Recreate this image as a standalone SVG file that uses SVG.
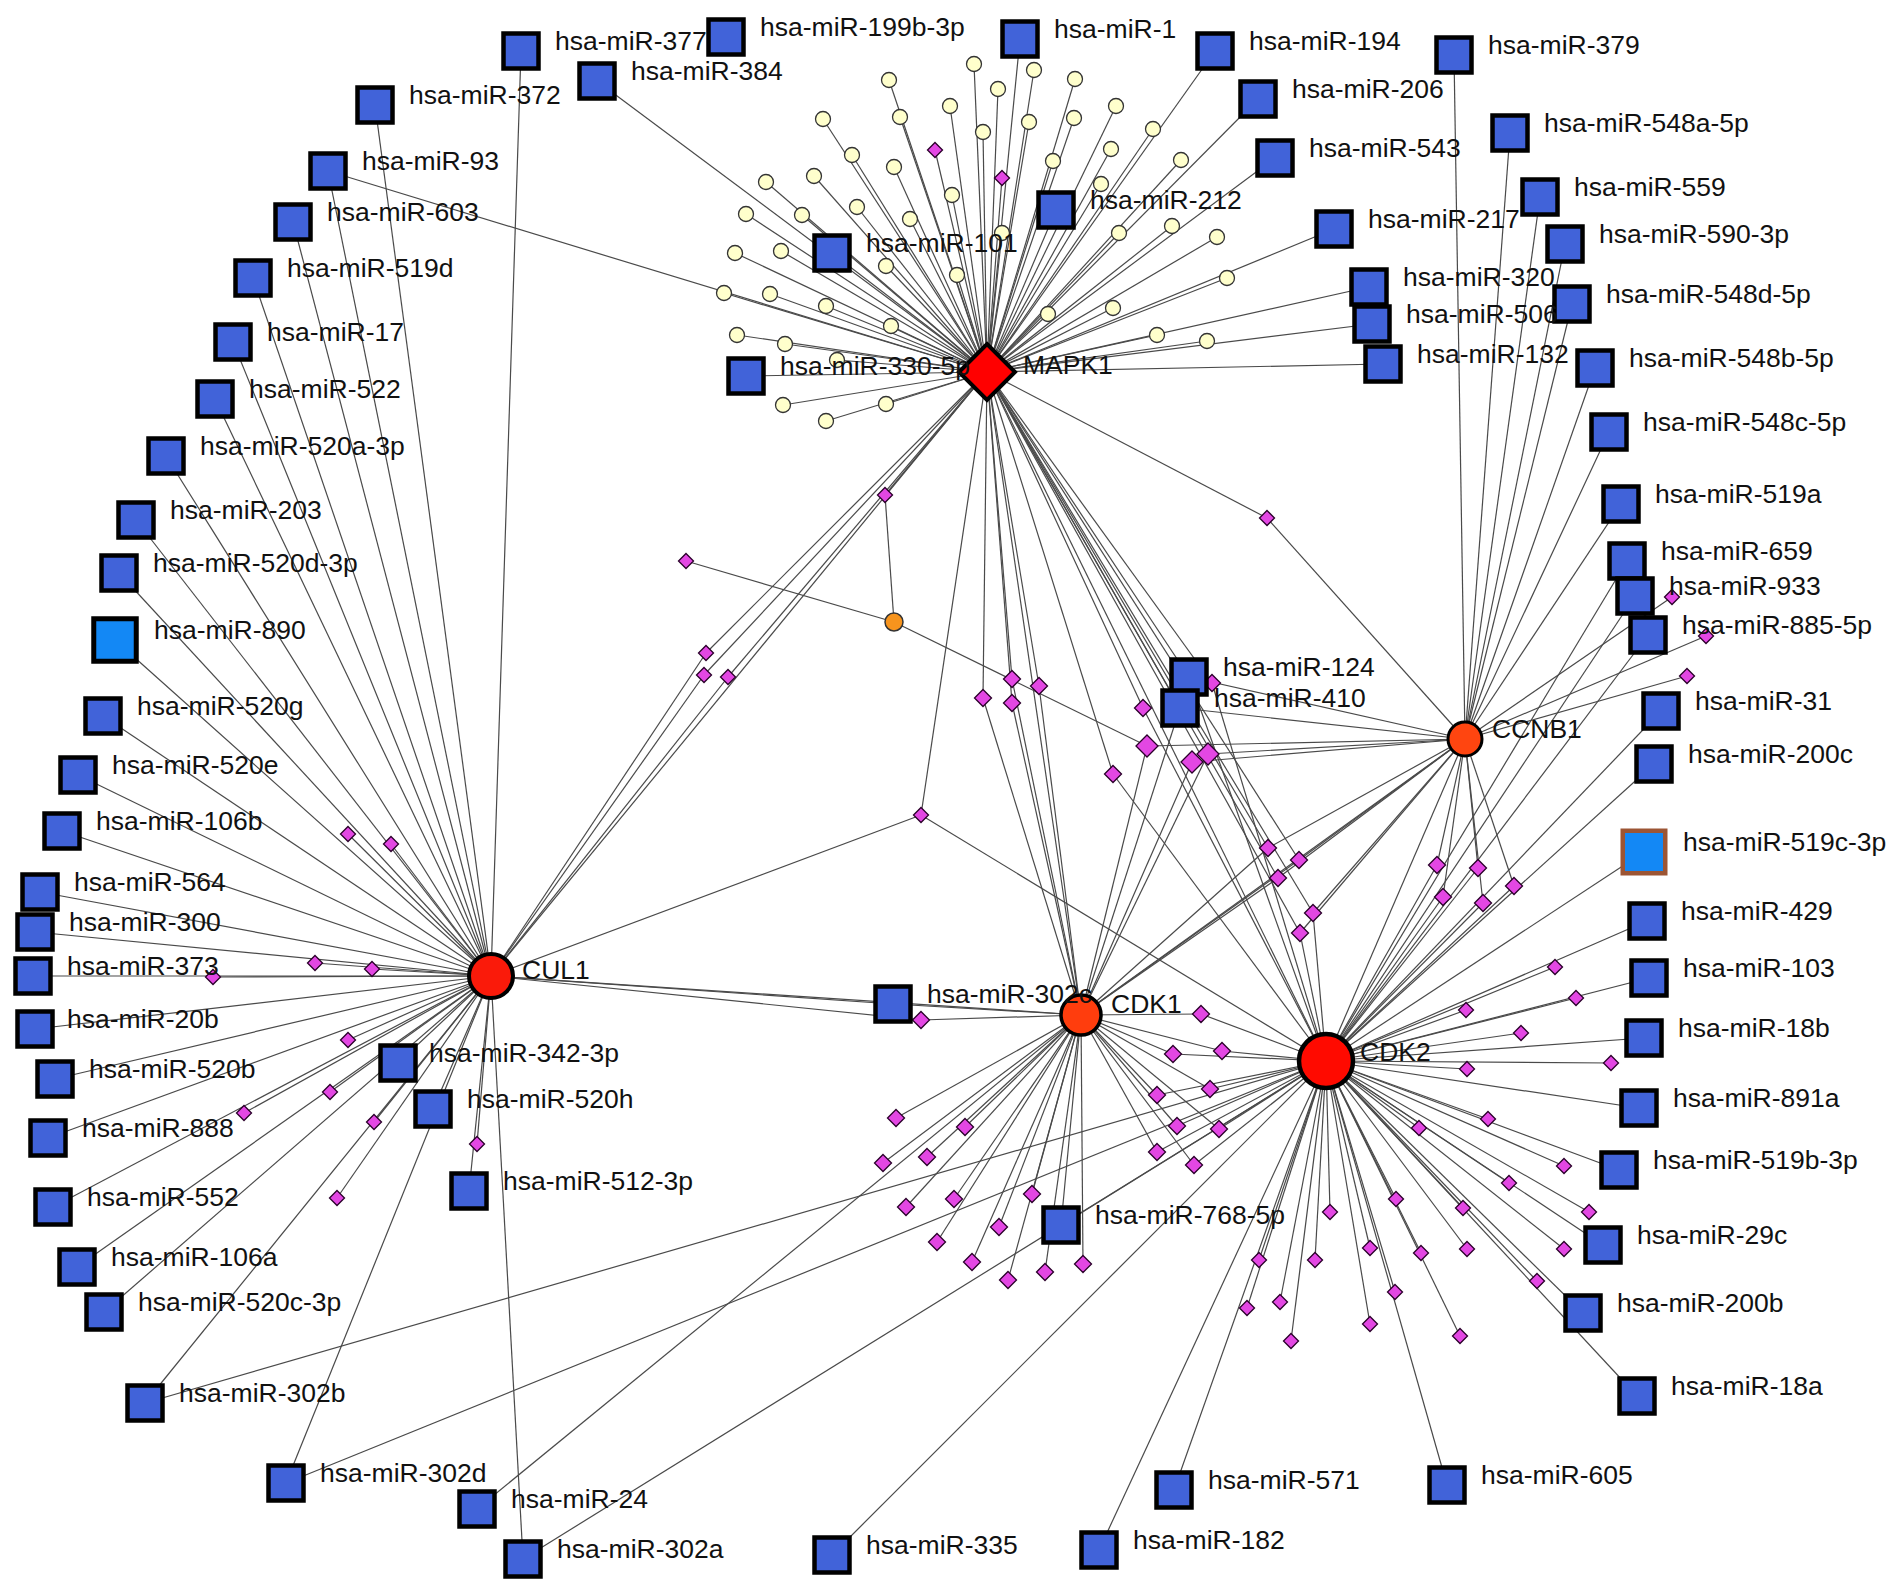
<svg xmlns="http://www.w3.org/2000/svg" xmlns:xlink="http://www.w3.org/1999/xlink" width="1890" height="1591" viewBox="0 0 1890 1591">
<style>
.e line{stroke:#4a4a4a;stroke-width:1.2}
.mir rect{fill:#4163d9;stroke:#000;stroke-width:4.5}
.lb{font-family:"Liberation Sans",Arial,sans-serif;font-size:26.5px;fill:#111}
.tf{fill:#e347e3;stroke:#2a002a;stroke-width:1.3}
.yc{fill:#ffffcc;stroke:#333;stroke-width:1.3}
</style>
<defs>
<path id="dS" d="M0,-7.5L7.5,0L0,7.5L-7.5,0Z"/>
<path id="dM" d="M0,-8.5L8.5,0L0,8.5L-8.5,0Z"/>
<path id="dL" d="M0,-11L11,0L0,11L-11,0Z"/>
</defs>
<rect width="1890" height="1591" fill="#fff"/>
<g id="connectors" class="e">
<!-- MAPK1 -->
<line x1="987" y1="372" x2="974" y2="64"/><line x1="987" y1="372" x2="1034" y2="70"/><line x1="987" y1="372" x2="889" y2="80"/><line x1="987" y1="372" x2="998" y2="89"/><line x1="987" y1="372" x2="1075" y2="79"/><line x1="987" y1="372" x2="823" y2="119"/><line x1="987" y1="372" x2="900" y2="117"/><line x1="987" y1="372" x2="950" y2="106"/><line x1="987" y1="372" x2="1029" y2="122"/><line x1="987" y1="372" x2="1074" y2="118"/><line x1="987" y1="372" x2="1116" y2="106"/><line x1="987" y1="372" x2="983" y2="132"/><line x1="987" y1="372" x2="1153" y2="129"/><line x1="987" y1="372" x2="852" y2="155"/><line x1="987" y1="372" x2="894" y2="167"/><line x1="987" y1="372" x2="1053" y2="161"/><line x1="987" y1="372" x2="1111" y2="149"/><line x1="987" y1="372" x2="1181" y2="160"/><line x1="987" y1="372" x2="766" y2="182"/><line x1="987" y1="372" x2="814" y2="176"/><line x1="987" y1="372" x2="857" y2="207"/><line x1="987" y1="372" x2="952" y2="195"/><line x1="987" y1="372" x2="1101" y2="184"/><line x1="987" y1="372" x2="746" y2="214"/><line x1="987" y1="372" x2="802" y2="215"/><line x1="987" y1="372" x2="910" y2="219"/><line x1="987" y1="372" x2="1002" y2="233"/><line x1="987" y1="372" x2="1119" y2="233"/><line x1="987" y1="372" x2="1172" y2="226"/><line x1="987" y1="372" x2="1217" y2="237"/><line x1="987" y1="372" x2="735" y2="253"/><line x1="987" y1="372" x2="781" y2="251"/><line x1="987" y1="372" x2="886" y2="266"/><line x1="987" y1="372" x2="957" y2="275"/><line x1="987" y1="372" x2="1227" y2="278"/><line x1="987" y1="372" x2="724" y2="293"/><line x1="987" y1="372" x2="770" y2="294"/><line x1="987" y1="372" x2="826" y2="306"/><line x1="987" y1="372" x2="891" y2="326"/><line x1="987" y1="372" x2="1048" y2="314"/><line x1="987" y1="372" x2="1113" y2="308"/><line x1="987" y1="372" x2="737" y2="335"/><line x1="987" y1="372" x2="785" y2="344"/><line x1="987" y1="372" x2="837" y2="360"/><line x1="987" y1="372" x2="1157" y2="335"/><line x1="987" y1="372" x2="1207" y2="341"/><line x1="987" y1="372" x2="783" y2="405"/><line x1="987" y1="372" x2="886" y2="404"/><line x1="987" y1="372" x2="826" y2="421"/>
<line x1="987" y1="372" x2="935" y2="150"/><line x1="987" y1="372" x2="1002" y2="178"/><line x1="987" y1="372" x2="597" y2="81"/><line x1="987" y1="372" x2="328" y2="171"/><line x1="987" y1="372" x2="1020" y2="39"/><line x1="987" y1="372" x2="1215" y2="51"/><line x1="987" y1="372" x2="1258" y2="99"/><line x1="987" y1="372" x2="1275" y2="158"/><line x1="987" y1="372" x2="1056" y2="210"/><line x1="987" y1="372" x2="832" y2="253"/><line x1="987" y1="372" x2="1334" y2="229"/><line x1="987" y1="372" x2="1369" y2="287"/><line x1="987" y1="372" x2="1372" y2="324"/><line x1="987" y1="372" x2="1383" y2="364"/><line x1="987" y1="372" x2="746" y2="376"/>
<line x1="987" y1="372" x2="491" y2="976"/><line x1="987" y1="372" x2="706" y2="653"/><line x1="987" y1="372" x2="704" y2="675"/><line x1="987" y1="372" x2="728" y2="677"/><line x1="987" y1="372" x2="885" y2="495"/><line x1="987" y1="372" x2="921" y2="815"/><line x1="987" y1="372" x2="1267" y2="518"/><line x1="987" y1="372" x2="983" y2="698"/><line x1="987" y1="372" x2="1012" y2="679"/><line x1="987" y1="372" x2="1012" y2="703"/><line x1="987" y1="372" x2="1039" y2="686"/><line x1="987" y1="372" x2="1143" y2="708"/><line x1="987" y1="372" x2="1113" y2="774"/><line x1="987" y1="372" x2="1212" y2="683"/><line x1="987" y1="372" x2="1081" y2="1015"/><line x1="987" y1="372" x2="1326" y2="1061"/><line x1="987" y1="372" x2="1268" y2="848"/><line x1="987" y1="372" x2="1299" y2="860"/><line x1="987" y1="372" x2="1278" y2="878"/><line x1="987" y1="372" x2="1313" y2="913"/><line x1="987" y1="372" x2="1300" y2="933"/><line x1="987" y1="372" x2="1189" y2="677"/><line x1="987" y1="372" x2="1180" y2="708"/>
<!-- CUL1 -->
<line x1="491" y1="976" x2="521" y2="51"/><line x1="491" y1="976" x2="375" y2="105"/><line x1="491" y1="976" x2="328" y2="171"/><line x1="491" y1="976" x2="293" y2="222"/><line x1="491" y1="976" x2="253" y2="278"/><line x1="491" y1="976" x2="233" y2="342"/><line x1="491" y1="976" x2="215" y2="399"/><line x1="491" y1="976" x2="166" y2="456"/><line x1="491" y1="976" x2="136" y2="520"/><line x1="491" y1="976" x2="119" y2="573"/><line x1="491" y1="976" x2="115" y2="640"/><line x1="491" y1="976" x2="103" y2="716"/><line x1="491" y1="976" x2="78" y2="775"/><line x1="491" y1="976" x2="62" y2="831"/><line x1="491" y1="976" x2="40" y2="892"/><line x1="491" y1="976" x2="35" y2="932"/><line x1="491" y1="976" x2="33" y2="976"/><line x1="491" y1="976" x2="35" y2="1029"/><line x1="491" y1="976" x2="55" y2="1079"/><line x1="491" y1="976" x2="48" y2="1138"/><line x1="491" y1="976" x2="53" y2="1207"/><line x1="491" y1="976" x2="77" y2="1267"/><line x1="491" y1="976" x2="104" y2="1312"/><line x1="491" y1="976" x2="145" y2="1403"/><line x1="491" y1="976" x2="286" y2="1483"/><line x1="491" y1="976" x2="523" y2="1559"/><line x1="491" y1="976" x2="398" y2="1063"/><line x1="491" y1="976" x2="433" y2="1109"/><line x1="491" y1="976" x2="469" y2="1191"/>
<line x1="491" y1="976" x2="348" y2="834"/><line x1="491" y1="976" x2="391" y2="844"/><line x1="491" y1="976" x2="315" y2="963"/><line x1="491" y1="976" x2="372" y2="969"/><line x1="491" y1="976" x2="213" y2="977"/><line x1="491" y1="976" x2="348" y2="1040"/><line x1="491" y1="976" x2="330" y2="1092"/><line x1="491" y1="976" x2="244" y2="1113"/><line x1="491" y1="976" x2="374" y2="1122"/><line x1="491" y1="976" x2="477" y2="1144"/><line x1="491" y1="976" x2="337" y2="1198"/>
<line x1="491" y1="976" x2="921" y2="1020"/><line x1="491" y1="976" x2="893" y2="1004"/><line x1="491" y1="976" x2="1081" y2="1015"/><line x1="491" y1="976" x2="921" y2="815"/><line x1="491" y1="976" x2="706" y2="653"/><line x1="491" y1="976" x2="704" y2="675"/><line x1="491" y1="976" x2="728" y2="677"/>
<!-- CDK1 -->
<line x1="1081" y1="1015" x2="893" y2="1004"/><line x1="1081" y1="1015" x2="477" y2="1509"/><line x1="1081" y1="1015" x2="1061" y2="1225"/><line x1="1081" y1="1015" x2="921" y2="1020"/>
<line x1="1081" y1="1015" x2="896" y2="1118"/><line x1="1081" y1="1015" x2="965" y2="1127"/><line x1="1081" y1="1015" x2="883" y2="1163"/><line x1="1081" y1="1015" x2="927" y2="1157"/><line x1="1081" y1="1015" x2="906" y2="1207"/><line x1="1081" y1="1015" x2="954" y2="1199"/><line x1="1081" y1="1015" x2="1032" y2="1194"/><line x1="1081" y1="1015" x2="999" y2="1227"/><line x1="1081" y1="1015" x2="937" y2="1242"/><line x1="1081" y1="1015" x2="972" y2="1262"/><line x1="1081" y1="1015" x2="1008" y2="1280"/><line x1="1081" y1="1015" x2="1045" y2="1272"/><line x1="1081" y1="1015" x2="1083" y2="1264"/>
<line x1="1081" y1="1015" x2="1201" y2="1014"/><line x1="1081" y1="1015" x2="1173" y2="1054"/><line x1="1081" y1="1015" x2="1222" y2="1051"/><line x1="1081" y1="1015" x2="1157" y2="1095"/><line x1="1081" y1="1015" x2="1210" y2="1089"/><line x1="1081" y1="1015" x2="1177" y2="1126"/><line x1="1081" y1="1015" x2="1219" y2="1129"/><line x1="1081" y1="1015" x2="1157" y2="1152"/><line x1="1081" y1="1015" x2="1194" y2="1165"/>
<line x1="1081" y1="1015" x2="983" y2="698"/><line x1="1081" y1="1015" x2="1012" y2="679"/><line x1="1081" y1="1015" x2="1012" y2="703"/><line x1="1081" y1="1015" x2="1039" y2="686"/><line x1="1081" y1="1015" x2="1147" y2="746"/><line x1="1081" y1="1015" x2="1192" y2="762"/><line x1="1081" y1="1015" x2="1208" y2="754"/><line x1="1081" y1="1015" x2="1268" y2="848"/><line x1="1081" y1="1015" x2="1299" y2="860"/><line x1="1081" y1="1015" x2="1278" y2="878"/><line x1="1081" y1="1015" x2="1465" y2="739"/><line x1="1081" y1="1015" x2="1180" y2="708"/>
<!-- CDK2 -->
<line x1="1326" y1="1061" x2="1654" y2="764"/><line x1="1326" y1="1061" x2="1661" y2="711"/><line x1="1326" y1="1061" x2="1648" y2="635"/><line x1="1326" y1="1061" x2="1635" y2="596"/><line x1="1326" y1="1061" x2="1627" y2="561"/><line x1="1326" y1="1061" x2="1644" y2="852"/><line x1="1326" y1="1061" x2="1647" y2="921"/><line x1="1326" y1="1061" x2="1649" y2="978"/><line x1="1326" y1="1061" x2="1644" y2="1038"/><line x1="1326" y1="1061" x2="1639" y2="1108"/><line x1="1326" y1="1061" x2="1619" y2="1170"/><line x1="1326" y1="1061" x2="1603" y2="1245"/><line x1="1326" y1="1061" x2="1583" y2="1313"/><line x1="1326" y1="1061" x2="1637" y2="1396"/><line x1="1326" y1="1061" x2="1447" y2="1485"/><line x1="1326" y1="1061" x2="1174" y2="1490"/><line x1="1326" y1="1061" x2="1099" y2="1550"/><line x1="1326" y1="1061" x2="832" y2="1555"/><line x1="1326" y1="1061" x2="523" y2="1559"/><line x1="1326" y1="1061" x2="286" y2="1483"/><line x1="1326" y1="1061" x2="145" y2="1403"/><line x1="1326" y1="1061" x2="1061" y2="1225"/><line x1="1326" y1="1061" x2="1189" y2="677"/>
<line x1="1326" y1="1061" x2="1555" y2="967"/><line x1="1326" y1="1061" x2="1576" y2="998"/><line x1="1326" y1="1061" x2="1466" y2="1010"/><line x1="1326" y1="1061" x2="1521" y2="1033"/><line x1="1326" y1="1061" x2="1611" y2="1063"/><line x1="1326" y1="1061" x2="1467" y2="1069"/><line x1="1326" y1="1061" x2="1488" y2="1119"/><line x1="1326" y1="1061" x2="1419" y2="1128"/><line x1="1326" y1="1061" x2="1564" y2="1166"/><line x1="1326" y1="1061" x2="1509" y2="1183"/><line x1="1326" y1="1061" x2="1589" y2="1212"/><line x1="1326" y1="1061" x2="1463" y2="1208"/><line x1="1326" y1="1061" x2="1396" y2="1199"/><line x1="1326" y1="1061" x2="1330" y2="1212"/><line x1="1326" y1="1061" x2="1370" y2="1248"/><line x1="1326" y1="1061" x2="1421" y2="1253"/><line x1="1326" y1="1061" x2="1467" y2="1249"/><line x1="1326" y1="1061" x2="1564" y2="1249"/><line x1="1326" y1="1061" x2="1315" y2="1260"/><line x1="1326" y1="1061" x2="1259" y2="1260"/><line x1="1326" y1="1061" x2="1537" y2="1281"/><line x1="1326" y1="1061" x2="1280" y2="1302"/><line x1="1326" y1="1061" x2="1395" y2="1292"/><line x1="1326" y1="1061" x2="1370" y2="1324"/><line x1="1326" y1="1061" x2="1460" y2="1336"/><line x1="1326" y1="1061" x2="1291" y2="1341"/><line x1="1326" y1="1061" x2="1247" y2="1308"/>
<line x1="1326" y1="1061" x2="1201" y2="1014"/><line x1="1326" y1="1061" x2="1173" y2="1054"/><line x1="1326" y1="1061" x2="1222" y2="1051"/><line x1="1326" y1="1061" x2="1157" y2="1095"/><line x1="1326" y1="1061" x2="1210" y2="1089"/><line x1="1326" y1="1061" x2="1177" y2="1126"/><line x1="1326" y1="1061" x2="1219" y2="1129"/><line x1="1326" y1="1061" x2="1157" y2="1152"/><line x1="1326" y1="1061" x2="1194" y2="1165"/>
<line x1="1326" y1="1061" x2="1437" y2="865"/><line x1="1326" y1="1061" x2="1478" y2="868"/><line x1="1326" y1="1061" x2="1514" y2="886"/><line x1="1326" y1="1061" x2="1443" y2="897"/><line x1="1326" y1="1061" x2="1483" y2="903"/><line x1="1326" y1="1061" x2="1313" y2="913"/><line x1="1326" y1="1061" x2="1300" y2="933"/><line x1="1326" y1="1061" x2="921" y2="815"/><line x1="1326" y1="1061" x2="1143" y2="708"/><line x1="1326" y1="1061" x2="1113" y2="774"/><line x1="1326" y1="1061" x2="1212" y2="683"/><line x1="1326" y1="1061" x2="1465" y2="739"/>
<!-- CCNB1 -->
<line x1="1465" y1="739" x2="1454" y2="55"/><line x1="1465" y1="739" x2="1510" y2="133"/><line x1="1465" y1="739" x2="1540" y2="197"/><line x1="1465" y1="739" x2="1565" y2="244"/><line x1="1465" y1="739" x2="1572" y2="304"/><line x1="1465" y1="739" x2="1595" y2="368"/><line x1="1465" y1="739" x2="1609" y2="432"/><line x1="1465" y1="739" x2="1621" y2="504"/>
<line x1="1465" y1="739" x2="1267" y2="518"/><line x1="1465" y1="739" x2="1147" y2="746"/><line x1="1465" y1="739" x2="1192" y2="762"/><line x1="1465" y1="739" x2="1208" y2="754"/><line x1="1465" y1="739" x2="1672" y2="597"/><line x1="1465" y1="739" x2="1706" y2="636"/><line x1="1465" y1="739" x2="1687" y2="676"/>
<line x1="1465" y1="739" x2="1268" y2="848"/><line x1="1465" y1="739" x2="1299" y2="860"/><line x1="1465" y1="739" x2="1278" y2="878"/><line x1="1465" y1="739" x2="1313" y2="913"/><line x1="1465" y1="739" x2="1300" y2="933"/><line x1="1465" y1="739" x2="1437" y2="865"/><line x1="1465" y1="739" x2="1478" y2="868"/><line x1="1465" y1="739" x2="1514" y2="886"/><line x1="1465" y1="739" x2="1443" y2="897"/><line x1="1465" y1="739" x2="1483" y2="903"/><line x1="1465" y1="739" x2="1189" y2="677"/><line x1="1465" y1="739" x2="1180" y2="708"/>
<!-- orange node -->
<line x1="894" y1="622" x2="885" y2="495"/><line x1="894" y1="622" x2="686" y2="561"/><line x1="894" y1="622" x2="1147" y2="746"/>
</g>
<g id="yellow-nodes" class="yc">
<g id="y1"><circle cx="974" cy="64" r="7.5"/></g><g id="y2"><circle cx="1034" cy="70" r="7.5"/></g><g id="y3"><circle cx="889" cy="80" r="7.5"/></g><g id="y4"><circle cx="998" cy="89" r="7.5"/></g><g id="y5"><circle cx="1075" cy="79" r="7.5"/></g><g id="y6"><circle cx="823" cy="119" r="7.5"/></g><g id="y7"><circle cx="900" cy="117" r="7.5"/></g><g id="y8"><circle cx="950" cy="106" r="7.5"/></g><g id="y9"><circle cx="1029" cy="122" r="7.5"/></g><g id="y10"><circle cx="1074" cy="118" r="7.5"/></g><g id="y11"><circle cx="1116" cy="106" r="7.5"/></g><g id="y12"><circle cx="983" cy="132" r="7.5"/></g><g id="y13"><circle cx="1153" cy="129" r="7.5"/></g><g id="y14"><circle cx="852" cy="155" r="7.5"/></g><g id="y15"><circle cx="894" cy="167" r="7.5"/></g><g id="y16"><circle cx="1053" cy="161" r="7.5"/></g><g id="y17"><circle cx="1111" cy="149" r="7.5"/></g><g id="y18"><circle cx="1181" cy="160" r="7.5"/></g><g id="y19"><circle cx="766" cy="182" r="7.5"/></g><g id="y20"><circle cx="814" cy="176" r="7.5"/></g><g id="y21"><circle cx="857" cy="207" r="7.5"/></g><g id="y22"><circle cx="952" cy="195" r="7.5"/></g><g id="y23"><circle cx="1101" cy="184" r="7.5"/></g><g id="y24"><circle cx="746" cy="214" r="7.5"/></g><g id="y25"><circle cx="802" cy="215" r="7.5"/></g><g id="y26"><circle cx="910" cy="219" r="7.5"/></g><g id="y27"><circle cx="1002" cy="233" r="7.5"/></g><g id="y28"><circle cx="1119" cy="233" r="7.5"/></g><g id="y29"><circle cx="1172" cy="226" r="7.5"/></g><g id="y30"><circle cx="1217" cy="237" r="7.5"/></g><g id="y31"><circle cx="735" cy="253" r="7.5"/></g><g id="y32"><circle cx="781" cy="251" r="7.5"/></g><g id="y33"><circle cx="886" cy="266" r="7.5"/></g><g id="y34"><circle cx="957" cy="275" r="7.5"/></g><g id="y35"><circle cx="1227" cy="278" r="7.5"/></g><g id="y36"><circle cx="724" cy="293" r="7.5"/></g><g id="y37"><circle cx="770" cy="294" r="7.5"/></g><g id="y38"><circle cx="826" cy="306" r="7.5"/></g><g id="y39"><circle cx="891" cy="326" r="7.5"/></g><g id="y40"><circle cx="1048" cy="314" r="7.5"/></g><g id="y41"><circle cx="1113" cy="308" r="7.5"/></g><g id="y42"><circle cx="737" cy="335" r="7.5"/></g><g id="y43"><circle cx="785" cy="344" r="7.5"/></g><g id="y44"><circle cx="837" cy="360" r="7.5"/></g><g id="y45"><circle cx="1157" cy="335" r="7.5"/></g><g id="y46"><circle cx="1207" cy="341" r="7.5"/></g><g id="y47"><circle cx="783" cy="405" r="7.5"/></g><g id="y48"><circle cx="886" cy="404" r="7.5"/></g><g id="y49"><circle cx="826" cy="421" r="7.5"/></g>
</g>
<g id="tf-nodes" class="tf">
<g id="t1"><use href="#dS" x="935" y="150"/></g><g id="t2"><use href="#dS" x="1002" y="178"/></g>
<g id="t3"><use href="#dS" x="706" y="653"/></g><g id="t4"><use href="#dS" x="704" y="675"/></g><g id="t5"><use href="#dS" x="728" y="677"/></g>
<g id="t6"><use href="#dS" x="885" y="495"/></g><g id="t7"><use href="#dS" x="686" y="561"/></g><g id="t8"><use href="#dS" x="921" y="815"/></g><g id="t9"><use href="#dS" x="1267" y="518"/></g>
<g id="t10"><use href="#dM" x="983" y="698"/></g><g id="t11"><use href="#dM" x="1012" y="679"/></g><g id="t12"><use href="#dM" x="1012" y="703"/></g><g id="t13"><use href="#dM" x="1039" y="686"/></g>
<g id="t14"><use href="#dM" x="1143" y="708"/></g><g id="t15"><use href="#dM" x="1113" y="774"/></g><g id="t16"><use href="#dM" x="1212" y="683"/></g>
<g id="t17"><use href="#dL" x="1147" y="746"/></g><g id="t18"><use href="#dL" x="1192" y="762"/></g><g id="t19"><use href="#dL" x="1208" y="754"/></g>
<g id="t20"><use href="#dM" x="921" y="1020"/></g>
<g id="t21"><use href="#dM" x="1201" y="1014"/></g><g id="t22"><use href="#dM" x="1173" y="1054"/></g><g id="t23"><use href="#dM" x="1222" y="1051"/></g><g id="t24"><use href="#dM" x="1157" y="1095"/></g><g id="t25"><use href="#dM" x="1210" y="1089"/></g><g id="t26"><use href="#dM" x="1177" y="1126"/></g><g id="t27"><use href="#dM" x="1219" y="1129"/></g><g id="t28"><use href="#dM" x="1157" y="1152"/></g><g id="t29"><use href="#dM" x="1194" y="1165"/></g>
<g id="t30"><use href="#dM" x="896" y="1118"/></g><g id="t31"><use href="#dM" x="965" y="1127"/></g><g id="t32"><use href="#dM" x="883" y="1163"/></g><g id="t33"><use href="#dM" x="927" y="1157"/></g><g id="t34"><use href="#dM" x="906" y="1207"/></g><g id="t35"><use href="#dM" x="954" y="1199"/></g><g id="t36"><use href="#dM" x="1032" y="1194"/></g><g id="t37"><use href="#dM" x="999" y="1227"/></g><g id="t38"><use href="#dM" x="937" y="1242"/></g><g id="t39"><use href="#dM" x="972" y="1262"/></g><g id="t40"><use href="#dM" x="1008" y="1280"/></g><g id="t41"><use href="#dM" x="1045" y="1272"/></g><g id="t42"><use href="#dM" x="1083" y="1264"/></g>
<g id="t43"><use href="#dS" x="1672" y="597"/></g><g id="t44"><use href="#dS" x="1706" y="636"/></g><g id="t45"><use href="#dS" x="1687" y="676"/></g>
<g id="t46"><use href="#dM" x="1268" y="848"/></g><g id="t47"><use href="#dM" x="1299" y="860"/></g><g id="t48"><use href="#dM" x="1278" y="878"/></g><g id="t49"><use href="#dM" x="1313" y="913"/></g><g id="t50"><use href="#dM" x="1300" y="933"/></g>
<g id="t51"><use href="#dM" x="1437" y="865"/></g><g id="t52"><use href="#dM" x="1478" y="868"/></g><g id="t53"><use href="#dM" x="1514" y="886"/></g><g id="t54"><use href="#dM" x="1443" y="897"/></g><g id="t55"><use href="#dM" x="1483" y="903"/></g>
<g id="t56"><use href="#dS" x="1555" y="967"/></g><g id="t57"><use href="#dS" x="1576" y="998"/></g><g id="t58"><use href="#dS" x="1466" y="1010"/></g><g id="t59"><use href="#dS" x="1521" y="1033"/></g><g id="t60"><use href="#dS" x="1611" y="1063"/></g><g id="t61"><use href="#dS" x="1467" y="1069"/></g>
<g id="t62"><use href="#dS" x="1488" y="1119"/></g><g id="t63"><use href="#dS" x="1419" y="1128"/></g><g id="t64"><use href="#dS" x="1564" y="1166"/></g><g id="t65"><use href="#dS" x="1509" y="1183"/></g><g id="t66"><use href="#dS" x="1589" y="1212"/></g><g id="t67"><use href="#dS" x="1463" y="1208"/></g><g id="t68"><use href="#dS" x="1396" y="1199"/></g><g id="t69"><use href="#dS" x="1330" y="1212"/></g><g id="t70"><use href="#dS" x="1370" y="1248"/></g><g id="t71"><use href="#dS" x="1421" y="1253"/></g><g id="t72"><use href="#dS" x="1467" y="1249"/></g><g id="t73"><use href="#dS" x="1564" y="1249"/></g><g id="t74"><use href="#dS" x="1315" y="1260"/></g><g id="t75"><use href="#dS" x="1259" y="1260"/></g><g id="t76"><use href="#dS" x="1537" y="1281"/></g><g id="t77"><use href="#dS" x="1280" y="1302"/></g><g id="t78"><use href="#dS" x="1395" y="1292"/></g><g id="t79"><use href="#dS" x="1370" y="1324"/></g><g id="t80"><use href="#dS" x="1460" y="1336"/></g><g id="t81"><use href="#dS" x="1291" y="1341"/></g><g id="t82"><use href="#dS" x="1247" y="1308"/></g>
<g id="t83"><use href="#dS" x="348" y="834"/></g><g id="t84"><use href="#dS" x="391" y="844"/></g><g id="t85"><use href="#dS" x="315" y="963"/></g><g id="t86"><use href="#dS" x="372" y="969"/></g><g id="t87"><use href="#dS" x="213" y="977"/></g><g id="t88"><use href="#dS" x="348" y="1040"/></g><g id="t89"><use href="#dS" x="330" y="1092"/></g><g id="t90"><use href="#dS" x="244" y="1113"/></g><g id="t91"><use href="#dS" x="374" y="1122"/></g><g id="t92"><use href="#dS" x="477" y="1144"/></g><g id="t93"><use href="#dS" x="337" y="1198"/></g>
</g>
<g id="orange-node"><circle cx="894" cy="622" r="9" fill="#f7941d" stroke="#333" stroke-width="1.5"/></g>
<g id="MAPK1"><path d="M987,344L1015,372L987,400L959,372Z" fill="#ff0000" stroke="#000" stroke-width="4"/><text class="lb" x="1023" y="374">MAPK1</text></g>
<g id="CUL1"><circle cx="491" cy="976" r="22" fill="#fa1a0a" stroke="#000" stroke-width="4"/><text class="lb" x="522" y="979">CUL1</text></g>
<g id="CDK2"><circle cx="1326" cy="1061" r="27" fill="#ff0a00" stroke="#000" stroke-width="4.5"/><text class="lb" x="1360" y="1061">CDK2</text></g>
<g id="CCNB1"><circle cx="1465" cy="739" r="17" fill="#ff4510" stroke="#000" stroke-width="3"/><text class="lb" x="1492" y="738">CCNB1</text></g>
<g id="mirnas">
<g id="hsa-miR-377" class="mir"><rect x="503.5" y="33.5" width="35" height="35"/><text class="lb" x="555" y="50">hsa-miR-377</text></g>
<g id="hsa-miR-199b-3p" class="mir"><rect x="708.5" y="19.5" width="35" height="35"/><text class="lb" x="760" y="36">hsa-miR-199b-3p</text></g>
<g id="hsa-miR-1" class="mir"><rect x="1002.5" y="21.5" width="35" height="35"/><text class="lb" x="1054" y="38">hsa-miR-1</text></g>
<g id="hsa-miR-194" class="mir"><rect x="1197.5" y="33.5" width="35" height="35"/><text class="lb" x="1249" y="50">hsa-miR-194</text></g>
<g id="hsa-miR-379" class="mir"><rect x="1436.5" y="37.5" width="35" height="35"/><text class="lb" x="1488" y="54">hsa-miR-379</text></g>
<g id="hsa-miR-384" class="mir"><rect x="579.5" y="63.5" width="35" height="35"/><text class="lb" x="631" y="80">hsa-miR-384</text></g>
<g id="hsa-miR-372" class="mir"><rect x="357.5" y="87.5" width="35" height="35"/><text class="lb" x="409" y="104">hsa-miR-372</text></g>
<g id="hsa-miR-206" class="mir"><rect x="1240.5" y="81.5" width="35" height="35"/><text class="lb" x="1292" y="98">hsa-miR-206</text></g>
<g id="hsa-miR-548a-5p" class="mir"><rect x="1492.5" y="115.5" width="35" height="35"/><text class="lb" x="1544" y="132">hsa-miR-548a-5p</text></g>
<g id="hsa-miR-93" class="mir"><rect x="310.5" y="153.5" width="35" height="35"/><text class="lb" x="362" y="170">hsa-miR-93</text></g>
<g id="hsa-miR-543" class="mir"><rect x="1257.5" y="140.5" width="35" height="35"/><text class="lb" x="1309" y="157">hsa-miR-543</text></g>
<g id="hsa-miR-559" class="mir"><rect x="1522.5" y="179.5" width="35" height="35"/><text class="lb" x="1574" y="196">hsa-miR-559</text></g>
<g id="hsa-miR-212" class="mir"><rect x="1038.5" y="192.5" width="35" height="35"/><text class="lb" x="1090" y="209">hsa-miR-212</text></g>
<g id="hsa-miR-603" class="mir"><rect x="275.5" y="204.5" width="35" height="35"/><text class="lb" x="327" y="221">hsa-miR-603</text></g>
<g id="hsa-miR-217" class="mir"><rect x="1316.5" y="211.5" width="35" height="35"/><text class="lb" x="1368" y="228">hsa-miR-217</text></g>
<g id="hsa-miR-590-3p" class="mir"><rect x="1547.5" y="226.5" width="35" height="35"/><text class="lb" x="1599" y="243">hsa-miR-590-3p</text></g>
<g id="hsa-miR-101" class="mir"><rect x="814.5" y="235.5" width="35" height="35"/><text class="lb" x="866" y="252">hsa-miR-101</text></g>
<g id="hsa-miR-519d" class="mir"><rect x="235.5" y="260.5" width="35" height="35"/><text class="lb" x="287" y="277">hsa-miR-519d</text></g>
<g id="hsa-miR-320" class="mir"><rect x="1351.5" y="269.5" width="35" height="35"/><text class="lb" x="1403" y="286">hsa-miR-320</text></g>
<g id="hsa-miR-548d-5p" class="mir"><rect x="1554.5" y="286.5" width="35" height="35"/><text class="lb" x="1606" y="303">hsa-miR-548d-5p</text></g>
<g id="hsa-miR-506" class="mir"><rect x="1354.5" y="306.5" width="35" height="35"/><text class="lb" x="1406" y="323">hsa-miR-506</text></g>
<g id="hsa-miR-17" class="mir"><rect x="215.5" y="324.5" width="35" height="35"/><text class="lb" x="267" y="341">hsa-miR-17</text></g>
<g id="hsa-miR-132" class="mir"><rect x="1365.5" y="346.5" width="35" height="35"/><text class="lb" x="1417" y="363">hsa-miR-132</text></g>
<g id="hsa-miR-548b-5p" class="mir"><rect x="1577.5" y="350.5" width="35" height="35"/><text class="lb" x="1629" y="367">hsa-miR-548b-5p</text></g>
<g id="hsa-miR-330-5p" class="mir"><rect x="728.5" y="358.5" width="35" height="35"/><text class="lb" x="780" y="375">hsa-miR-330-5p</text></g>
<g id="hsa-miR-522" class="mir"><rect x="197.5" y="381.5" width="35" height="35"/><text class="lb" x="249" y="398">hsa-miR-522</text></g>
<g id="hsa-miR-548c-5p" class="mir"><rect x="1591.5" y="414.5" width="35" height="35"/><text class="lb" x="1643" y="431">hsa-miR-548c-5p</text></g>
<g id="hsa-miR-520a-3p" class="mir"><rect x="148.5" y="438.5" width="35" height="35"/><text class="lb" x="200" y="455">hsa-miR-520a-3p</text></g>
<g id="hsa-miR-519a" class="mir"><rect x="1603.5" y="486.5" width="35" height="35"/><text class="lb" x="1655" y="503">hsa-miR-519a</text></g>
<g id="hsa-miR-203" class="mir"><rect x="118.5" y="502.5" width="35" height="35"/><text class="lb" x="170" y="519">hsa-miR-203</text></g>
<g id="hsa-miR-659" class="mir"><rect x="1609.5" y="543.5" width="35" height="35"/><text class="lb" x="1661" y="560">hsa-miR-659</text></g>
<g id="hsa-miR-520d-3p" class="mir"><rect x="101.5" y="555.5" width="35" height="35"/><text class="lb" x="153" y="572">hsa-miR-520d-3p</text></g>
<g id="hsa-miR-933" class="mir"><rect x="1617.5" y="578.5" width="35" height="35"/><text class="lb" x="1669" y="595">hsa-miR-933</text></g>
<g id="hsa-miR-885-5p" class="mir"><rect x="1630.5" y="617.5" width="35" height="35"/><text class="lb" x="1682" y="634">hsa-miR-885-5p</text></g>
<g id="hsa-miR-890" class="mir"><rect x="93.75" y="618.75" width="42.5" height="42.5" style="fill:#1388f5;stroke-width:5"/><text class="lb" x="154" y="639">hsa-miR-890</text></g>
<g id="hsa-miR-124" class="mir"><rect x="1171.5" y="659.5" width="35" height="35"/><text class="lb" x="1223" y="676">hsa-miR-124</text></g>
<g id="hsa-miR-410" class="mir"><rect x="1162.5" y="690.5" width="35" height="35"/><text class="lb" x="1214" y="707">hsa-miR-410</text></g>
<g id="hsa-miR-31" class="mir"><rect x="1643.5" y="693.5" width="35" height="35"/><text class="lb" x="1695" y="710">hsa-miR-31</text></g>
<g id="hsa-miR-520g" class="mir"><rect x="85.5" y="698.5" width="35" height="35"/><text class="lb" x="137" y="715">hsa-miR-520g</text></g>
<g id="hsa-miR-200c" class="mir"><rect x="1636.5" y="746.5" width="35" height="35"/><text class="lb" x="1688" y="763">hsa-miR-200c</text></g>
<g id="hsa-miR-520e" class="mir"><rect x="60.5" y="757.5" width="35" height="35"/><text class="lb" x="112" y="774">hsa-miR-520e</text></g>
<g id="hsa-miR-106b" class="mir"><rect x="44.5" y="813.5" width="35" height="35"/><text class="lb" x="96" y="830">hsa-miR-106b</text></g>
<g id="hsa-miR-519c-3p" class="mir"><rect x="1622.75" y="830.75" width="42.5" height="42.5" style="fill:#1388f5;stroke:#9c5534;stroke-width:4.5"/><text class="lb" x="1683" y="851">hsa-miR-519c-3p</text></g>
<g id="hsa-miR-564" class="mir"><rect x="22.5" y="874.5" width="35" height="35"/><text class="lb" x="74" y="891">hsa-miR-564</text></g>
<g id="hsa-miR-429" class="mir"><rect x="1629.5" y="903.5" width="35" height="35"/><text class="lb" x="1681" y="920">hsa-miR-429</text></g>
<g id="hsa-miR-300" class="mir"><rect x="17.5" y="914.5" width="35" height="35"/><text class="lb" x="69" y="931">hsa-miR-300</text></g>
<g id="hsa-miR-373" class="mir"><rect x="15.5" y="958.5" width="35" height="35"/><text class="lb" x="67" y="975">hsa-miR-373</text></g>
<g id="hsa-miR-103" class="mir"><rect x="1631.5" y="960.5" width="35" height="35"/><text class="lb" x="1683" y="977">hsa-miR-103</text></g>
<g id="CDK1"><circle cx="1081" cy="1015" r="20" fill="#ff3d0d" stroke="#000" stroke-width="3.5"/><text class="lb" x="1111" y="1013">CDK1</text></g>
<g id="hsa-miR-302c" class="mir"><rect x="875.5" y="986.5" width="35" height="35"/><text class="lb" x="927" y="1003">hsa-miR-302c</text></g>
<g id="hsa-miR-20b" class="mir"><rect x="17.5" y="1011.5" width="35" height="35"/><text class="lb" x="67" y="1028">hsa-miR-20b</text></g>
<g id="hsa-miR-18b" class="mir"><rect x="1626.5" y="1020.5" width="35" height="35"/><text class="lb" x="1678" y="1037">hsa-miR-18b</text></g>
<g id="hsa-miR-342-3p" class="mir"><rect x="380.5" y="1045.5" width="35" height="35"/><text class="lb" x="429" y="1062">hsa-miR-342-3p</text></g>
<g id="hsa-miR-520b" class="mir"><rect x="37.5" y="1061.5" width="35" height="35"/><text class="lb" x="89" y="1078">hsa-miR-520b</text></g>
<g id="hsa-miR-891a" class="mir"><rect x="1621.5" y="1090.5" width="35" height="35"/><text class="lb" x="1673" y="1107">hsa-miR-891a</text></g>
<g id="hsa-miR-520h" class="mir"><rect x="415.5" y="1091.5" width="35" height="35"/><text class="lb" x="467" y="1108">hsa-miR-520h</text></g>
<g id="hsa-miR-888" class="mir"><rect x="30.5" y="1120.5" width="35" height="35"/><text class="lb" x="82" y="1137">hsa-miR-888</text></g>
<g id="hsa-miR-519b-3p" class="mir"><rect x="1601.5" y="1152.5" width="35" height="35"/><text class="lb" x="1653" y="1169">hsa-miR-519b-3p</text></g>
<g id="hsa-miR-512-3p" class="mir"><rect x="451.5" y="1173.5" width="35" height="35"/><text class="lb" x="503" y="1190">hsa-miR-512-3p</text></g>
<g id="hsa-miR-552" class="mir"><rect x="35.5" y="1189.5" width="35" height="35"/><text class="lb" x="87" y="1206">hsa-miR-552</text></g>
<g id="hsa-miR-768-5p" class="mir"><rect x="1043.5" y="1207.5" width="35" height="35"/><text class="lb" x="1095" y="1224">hsa-miR-768-5p</text></g>
<g id="hsa-miR-29c" class="mir"><rect x="1585.5" y="1227.5" width="35" height="35"/><text class="lb" x="1637" y="1244">hsa-miR-29c</text></g>
<g id="hsa-miR-106a" class="mir"><rect x="59.5" y="1249.5" width="35" height="35"/><text class="lb" x="111" y="1266">hsa-miR-106a</text></g>
<g id="hsa-miR-520c-3p" class="mir"><rect x="86.5" y="1294.5" width="35" height="35"/><text class="lb" x="138" y="1311">hsa-miR-520c-3p</text></g>
<g id="hsa-miR-200b" class="mir"><rect x="1565.5" y="1295.5" width="35" height="35"/><text class="lb" x="1617" y="1312">hsa-miR-200b</text></g>
<g id="hsa-miR-18a" class="mir"><rect x="1619.5" y="1378.5" width="35" height="35"/><text class="lb" x="1671" y="1395">hsa-miR-18a</text></g>
<g id="hsa-miR-302b" class="mir"><rect x="127.5" y="1385.5" width="35" height="35"/><text class="lb" x="179" y="1402">hsa-miR-302b</text></g>
<g id="hsa-miR-302d" class="mir"><rect x="268.5" y="1465.5" width="35" height="35"/><text class="lb" x="320" y="1482">hsa-miR-302d</text></g>
<g id="hsa-miR-571" class="mir"><rect x="1156.5" y="1472.5" width="35" height="35"/><text class="lb" x="1208" y="1489">hsa-miR-571</text></g>
<g id="hsa-miR-605" class="mir"><rect x="1429.5" y="1467.5" width="35" height="35"/><text class="lb" x="1481" y="1484">hsa-miR-605</text></g>
<g id="hsa-miR-24" class="mir"><rect x="459.5" y="1491.5" width="35" height="35"/><text class="lb" x="511" y="1508">hsa-miR-24</text></g>
<g id="hsa-miR-182" class="mir"><rect x="1081.5" y="1532.5" width="35" height="35"/><text class="lb" x="1133" y="1549">hsa-miR-182</text></g>
<g id="hsa-miR-335" class="mir"><rect x="814.5" y="1537.5" width="35" height="35"/><text class="lb" x="866" y="1554">hsa-miR-335</text></g>
<g id="hsa-miR-302a" class="mir"><rect x="505.5" y="1541.5" width="35" height="35"/><text class="lb" x="557" y="1558">hsa-miR-302a</text></g>
</g>
</svg>
